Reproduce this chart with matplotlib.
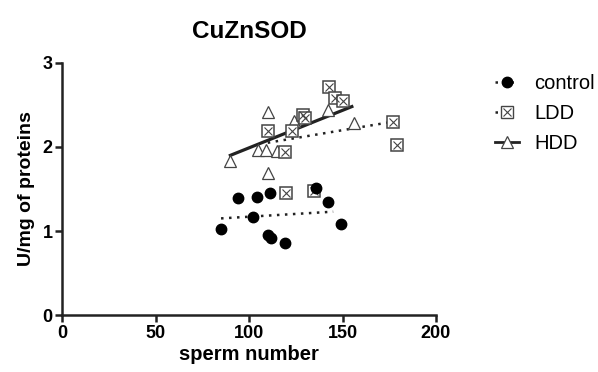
import matplotlib.pyplot as plt
from matplotlib.lines import Line2D

plt.rcParams['font.family'] = ['Liberation Sans', 'DejaVu Sans']

# control group
ctrl_x = [85, 94, 104, 111, 102, 110, 112, 119, 136, 142, 149]
ctrl_y = [1.02, 1.39, 1.40, 1.45, 1.17, 0.95, 0.92, 0.86, 1.51, 1.35, 1.08]

# LDD group
ldd_x = [143, 146, 150, 129, 130, 110, 123, 119, 177, 179, 120, 135]
ldd_y = [2.71, 2.58, 2.55, 2.38, 2.35, 2.19, 2.19, 1.94, 2.30, 2.02, 1.45, 1.48]

# HDD group
hdd_x = [90, 110, 110, 105, 109, 115, 124, 142, 156]
hdd_y = [1.83, 2.42, 1.69, 1.96, 1.96, 1.95, 2.31, 2.44, 2.29]

# regression lines
ctrl_fit_x = [85, 145]
ctrl_fit_y = [1.15, 1.23]
ldd_fit_x = [110, 177]
ldd_fit_y = [2.05, 2.30]
hdd_fit_x = [90, 155]
hdd_fit_y = [1.90, 2.48]

fig = plt.figure(figsize=(5.98, 3.72), dpi=100)
ax = fig.add_axes([0.104, 0.153, 0.625, 0.678])

dark = '#222222'
gray = '#444444'

ax.plot(ctrl_fit_x, ctrl_fit_y, linestyle=(0, (1, 2.2)), color=dark, lw=1.8)
ax.plot(ldd_fit_x, ldd_fit_y, linestyle=(0, (1, 2.2)), color=dark, lw=1.8)
ax.plot(hdd_fit_x, hdd_fit_y, linestyle='-', color=dark, lw=2.3)

ax.plot(hdd_x, hdd_y, linestyle='none', marker='^', ms=9, mfc='white', mec=gray, mew=0.9)
ax.plot(ldd_x, ldd_y, linestyle='none', marker='s', ms=8, mfc='white', mec=gray, mew=1.1)
ax.plot(ldd_x, ldd_y, linestyle='none', marker='x', ms=5.5, color=gray, mew=0.8)
ax.plot(ctrl_x, ctrl_y, linestyle='none', marker='o', ms=7.5, color='black')

ax.set_xlim(0, 200)
ax.set_ylim(0, 3)
ax.set_xticks([0, 50, 100, 150, 200])
ax.set_yticks([0, 1, 2, 3])
for s in ['top', 'right']:
    ax.spines[s].set_visible(False)
for s in ['left', 'bottom']:
    ax.spines[s].set_linewidth(1.8)
    ax.spines[s].set_color(dark)
ax.tick_params(width=1.8, length=5, color=dark, labelsize=13, pad=2)
for lab in ax.get_xticklabels() + ax.get_yticklabels():
    lab.set_fontweight('bold')

ax.set_xlabel('sperm number', fontsize=14.5, fontweight='bold', labelpad=2)
ax.set_ylabel('U/mg of proteins', fontsize=14, fontweight='bold', labelpad=5)
ax.set_title('CuZnSOD', fontsize=17.5, fontweight='bold', pad=18)

h_ctrl = Line2D([], [], linestyle=(0, (1, 2.2)), color=dark, lw=1.8, marker='o', ms=7.5, mfc='black', mec='black')
h_ldd_a = Line2D([], [], linestyle=(0, (1, 2.2)), color=dark, lw=1.8, marker='s', ms=8, mfc='white', mec=gray)
h_ldd_b = Line2D([], [], linestyle='none', marker='x', ms=5.5, color=gray, mew=0.8)
h_hdd = Line2D([], [], linestyle='-', color=dark, lw=2, marker='^', ms=9, mfc='white', mec=gray, mew=0.9)
fig.legend([h_ctrl, (h_ldd_a, h_ldd_b), h_hdd], ['control', 'LDD', 'HDD'],
           loc='upper left', bbox_to_anchor=(0.797, 0.85), frameon=False,
           fontsize=14.5, handlelength=1.2, handletextpad=0.75, labelspacing=0.55)

fig.savefig('out.png', dpi=100)
